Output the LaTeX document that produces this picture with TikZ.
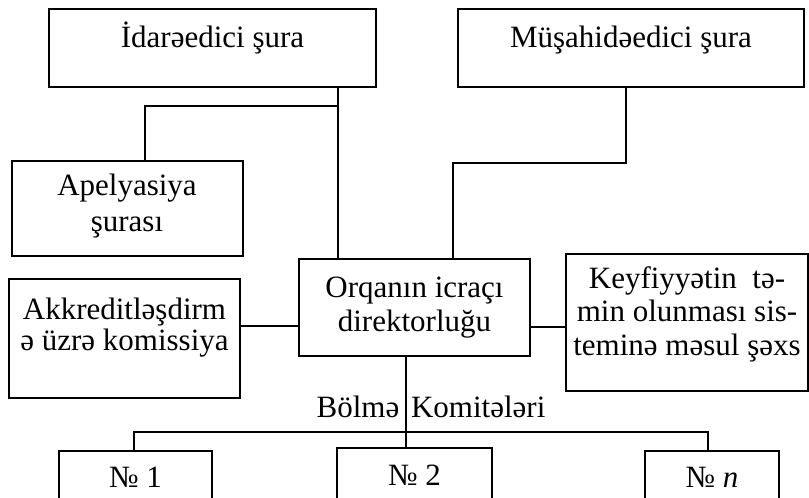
\documentclass[tikz,border=0pt]{standalone}
\usepackage{fontspec}
\setmainfont{Liberation Serif}
\usetikzlibrary{calc}

\begin{document}
\begin{tikzpicture}[x=0.5pt,y=-0.5pt,
  blok/.style={draw,line width=1pt,inner sep=0pt,align=center},
  sx/.style={font=\fontsize{15.5}{#1}\selectfont}]
\useasboundingbox (0,0) rectangle (809,498);
\clip (0,0) rectangle (809,498);
\tikzset{every path/.style={line width=1pt}}

\node[blok,sx=17,minimum width=163.5pt,text height=19pt,text depth=20pt] (idare) at (212.5,48) {İdarəedici şura};
\node[blok,sx=17,minimum width=173pt,text height=19pt,text depth=20pt] (musa) at (631,48) {Müşahidəedici şura};
\node[blok,sx=18,minimum width=115.5pt,text height=35pt,text depth=12.5pt] (apel) at (127,208.5) {Apelyasiya\\şurası};
\node[blok,sx=13.5,minimum width=115.5pt,text height=35.5pt,text depth=24pt] (akkr) at (124.5,338.5) {Akkreditləşdirm\\ə üzrə komissiya};
\node[blok,sx=17,minimum width=115.5pt,text height=36pt,text depth=12.5pt] (orq) at (414.5,307.5) {Orqanın icraçı\\direktorluğu};
\node[blok,sx=16.75,minimum width=121pt,text height=50.5pt,text depth=18pt] (keyf) at (687,322.5) {Keyfiyyətin\ \ tə-\\min olunması sis-\\teminə məsul şəxs};
\node[blok,sx=17,minimum width=76.5pt,text height=18pt,text depth=17pt] (n1) at (135.5,486) {№ 1};
\node[blok,sx=17,minimum width=77.5pt,text height=18.5pt,text depth=16.5pt] (n2) at (414.5,483) {№ 2};
\node[blok,sx=17,minimum width=67pt,text height=18pt,text depth=17pt] (nn) at (712,486) {№ \textit{n}};

\node[sx=17,anchor=base,inner sep=0pt] (bk) at (431,417) {Bölmə\hspace{2pt} Komitələri};

\coordinate (j1) at (338,106);
\coordinate (j2) at (626,163);
\coordinate (j3) at (453,163);
\coordinate (j4) at (145,106);
\coordinate (m1) at (270,326);
\coordinate (m2) at (548,327);
\coordinate (v1) at (406,432);
\coordinate (b1) at (134,432);
\coordinate (b2) at (708,432);

\draw (j1 |- idare.south) -- (j1 |- orq.north);
\draw (j1) -- (j4) -- (j4 |- apel.north);
\draw (j2 |- musa.south) -- (j2) -- (j3) -- (j3 |- orq.north);
\draw (m1 -| akkr.east) -- (m1 -| orq.west);
\draw (m2 -| orq.east) -- (m2 -| keyf.west);
\draw (v1 |- orq.south) -- (v1 |- n2.north);
\draw (b1 |- n1.north) -- (b1) -- (b2) -- (b2 |- nn.north);

\end{tikzpicture}
\end{document}
